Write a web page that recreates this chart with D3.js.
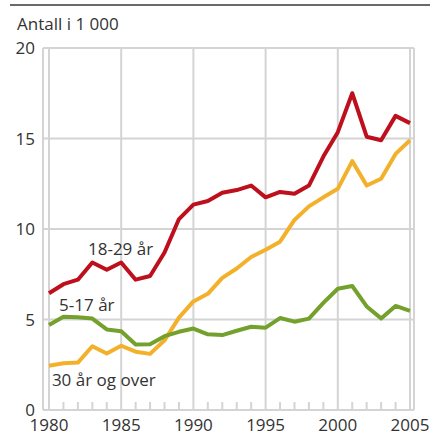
<!DOCTYPE html>
<html>
<head>
<meta charset="utf-8">
<script src="https://cdn.jsdelivr.net/npm/d3@7"></script>
<style>
  body { margin: 0; background: #fff; }
  text { font-family: "Open Sans", "Noto Sans", sans-serif; fill: #333; }
</style>
</head>
<body>
<svg width="430" height="435"></svg>
<script>
// data (in 1 000)
var years = d3.range(1980, 2006);
var age18_29 = [6.45, 6.95, 7.2, 8.15, 7.75, 8.15, 7.2, 7.4, 8.7, 10.55, 11.35, 11.55, 12.0, 12.15, 12.4, 11.75, 12.05, 11.95, 12.4, 14.0, 15.35, 17.5, 15.1, 14.9, 16.25, 15.85];
var age30over = [2.45, 2.58, 2.62, 3.52, 3.12, 3.55, 3.22, 3.1, 3.85, 5.1, 6.0, 6.42, 7.3, 7.82, 8.45, 8.85, 9.3, 10.5, 11.25, 11.75, 12.22, 13.75, 12.4, 12.78, 14.15, 14.9];
var age5_17 = [4.7, 5.15, 5.12, 5.05, 4.45, 4.35, 3.62, 3.63, 4.08, 4.32, 4.5, 4.18, 4.14, 4.38, 4.6, 4.55, 5.08, 4.88, 5.05, 5.92, 6.7, 6.85, 5.72, 5.06, 5.75, 5.48];
var yTicks = [0, 5, 10, 15, 20];
var xTicks = [1980, 1985, 1990, 1995, 2000, 2005];

var series = [
  {name: "30 år og over", values: age30over, color: "#f3b12b", lx: 1980.2, ly: 1.3},
  {name: "5-17 år", values: age5_17, color: "#74a12d", lx: 1980.7, ly: 5.45},
  {name: "18-29 år", values: age18_29, color: "#bd101c", lx: 1982.7, ly: 8.55}
];

var svg = d3.select("svg");

// top rule
svg.append("line")
  .attr("x1", 10).attr("x2", 430)
  .attr("y1", 5).attr("y2", 5)
  .attr("stroke", "#6a6a6a").attr("stroke-width", 2);

var x = d3.scaleLinear().domain([1980, 2005]).range([49, 410]);
var y = d3.scaleLinear().domain([0, 20]).range([410, 48]);

var left = 43, right = 414;
var grid = "#d4d4d4";

// horizontal grid
svg.append("g").selectAll("line")
  .data(yTicks)
  .enter().append("line")
    .attr("x1", left).attr("x2", right)
    .attr("y1", function(d) { return y(d); })
    .attr("y2", function(d) { return y(d); })
    .attr("stroke", grid).attr("stroke-width", 2);

// vertical grid
svg.append("g").selectAll("line")
  .data(xTicks)
  .enter().append("line")
    .attr("x1", function(d) { return x(d); })
    .attr("x2", function(d) { return x(d); })
    .attr("y1", y(20)).attr("y2", y(0))
    .attr("stroke", grid).attr("stroke-width", 2);

// frame sides
[left, right].forEach(function(px) {
  svg.append("line")
    .attr("x1", px).attr("x2", px)
    .attr("y1", y(20)).attr("y2", y(0))
    .attr("stroke", grid).attr("stroke-width", 2);
});

// minor year ticks
svg.append("g").selectAll("line")
  .data(years.filter(function(d) { return d % 5 != 0; }))
  .enter().append("line")
    .attr("x1", function(d) { return x(d); })
    .attr("x2", function(d) { return x(d); })
    .attr("y1", y(0) - 8).attr("y2", y(0))
    .attr("stroke", grid).attr("stroke-width", 2);

// y labels
svg.append("g").selectAll("text")
  .data(yTicks)
  .enter().append("text")
    .attr("x", 35)
    .attr("y", function(d) { return y(d) + 6; })
    .attr("text-anchor", "end")
    .attr("font-size", 17)
    .text(function(d) { return d; });

// x labels
svg.append("g").selectAll("text")
  .data(xTicks)
  .enter().append("text")
    .attr("x", function(d) { return x(d); })
    .attr("y", 431)
    .attr("text-anchor", "middle")
    .attr("font-size", 17)
    .text(function(d) { return d; });

svg.append("text")
  .attr("x", 17).attr("y", 30)
  .attr("font-size", 17)
  .text("Antall i 1 000");

// lines
var line = d3.line()
  .x(function(d, i) { return x(years[i]); })
  .y(function(d) { return y(d); });

svg.append("g").selectAll("path")
  .data(series)
  .enter().append("path")
    .attr("d", function(d) { return line(d.values); })
    .attr("fill", "none")
    .attr("stroke", function(d) { return d.color; })
    .attr("stroke-width", 4)
    .attr("stroke-linejoin", "round");

svg.append("g").selectAll("text")
  .data(series)
  .enter().append("text")
    .attr("x", function(d) { return x(d.lx); })
    .attr("y", function(d) { return y(d.ly); })
    .attr("font-size", 17)
    .text(function(d) { return d.name; });
</script>
</body>
</html>
